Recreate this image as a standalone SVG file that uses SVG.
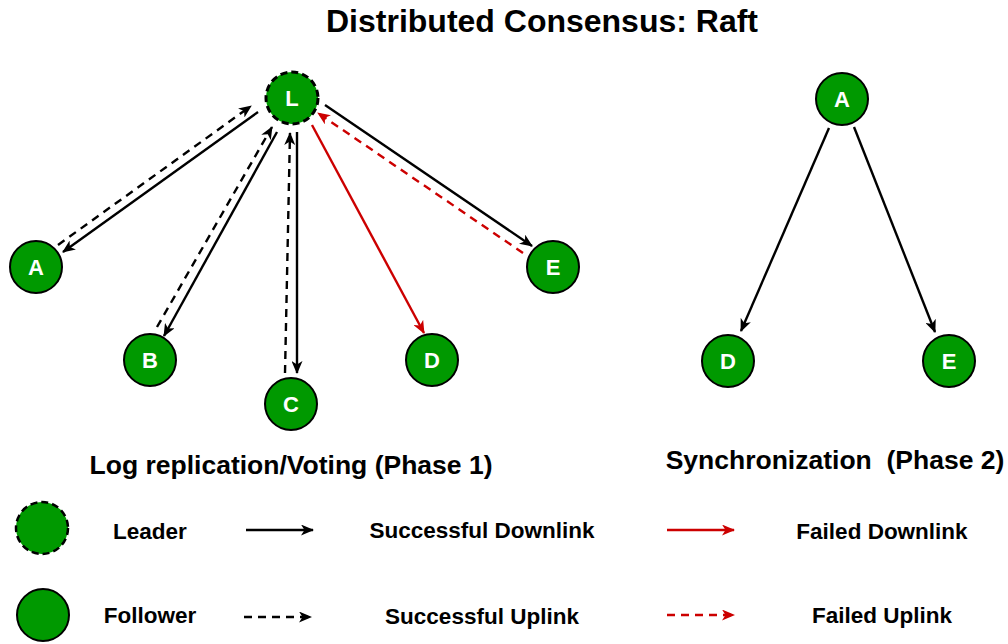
<svg xmlns="http://www.w3.org/2000/svg" width="1008" height="644" viewBox="0 0 1008 644">
  <style>
    .node { fill: #009900; stroke: #000; stroke-width: 2; }
    .leader { fill: #009900; stroke: #000; stroke-width: 3; stroke-dasharray: 7 4; }
    .lbl { font-family: "Liberation Sans", Arial, sans-serif; font-weight: bold; font-size: 22px; fill: #fff; text-anchor: middle; }
    .title { font-family: "Liberation Sans", Arial, sans-serif; font-weight: bold; font-size: 32px; fill: #000; text-anchor: middle; }
    .sub { font-family: "Liberation Sans", Arial, sans-serif; font-weight: bold; font-size: 26.5px; fill: #000; text-anchor: middle; }
    .leg { font-family: "Liberation Sans", Arial, sans-serif; font-weight: bold; font-size: 22.5px; fill: #000; text-anchor: middle; }
    .ok { stroke: #000; stroke-width: 2.4; fill: none; marker-end: url(#ab); }
    .okd { stroke: #000; stroke-width: 2.4; fill: none; stroke-dasharray: 8 6; marker-end: url(#ab); }
    .fail { stroke: #CC0000; stroke-width: 2.4; fill: none; marker-end: url(#ar); }
    .faild { stroke: #CC0000; stroke-width: 2.4; fill: none; stroke-dasharray: 8 6; marker-end: url(#ar); }
  </style>
  <defs>
    <marker id="ab" viewBox="0 0 13 11" refX="12" refY="5.5" markerWidth="13" markerHeight="11" markerUnits="userSpaceOnUse" orient="auto">
      <path d="M0,0 L13,5.5 L0,11 L3.5,5.5 Z" fill="#000"/>
    </marker>
    <marker id="ar" viewBox="0 0 13 11" refX="12" refY="5.5" markerWidth="13" markerHeight="11" markerUnits="userSpaceOnUse" orient="auto">
      <path d="M0,0 L13,5.5 L0,11 L3.5,5.5 Z" fill="#CC0000"/>
    </marker>
  </defs>
  <rect width="1008" height="644" fill="#fff"/>
  <text class="title" x="542" y="32">Distributed Consensus: Raft</text>

  <g id="connectors">
    <line class="ok" x1="258" y1="112" x2="63" y2="252"/>
    <line class="okd" x1="58" y1="245" x2="251" y2="106"/>
    <line class="okd" x1="157" y1="327" x2="272" y2="127"/>
    <line class="ok" x1="277" y1="132" x2="164" y2="336"/>
    <line class="okd" x1="285" y1="373" x2="290" y2="133"/>
    <line class="ok" x1="297" y1="132" x2="297" y2="373"/>
    <line class="fail" x1="312" y1="125" x2="424" y2="333"/>
    <line class="ok" x1="325" y1="105" x2="532" y2="246"/>
    <line class="faild" x1="523" y1="253" x2="318" y2="113"/>
    <line class="ok" x1="829" y1="128" x2="741" y2="331"/>
    <line class="ok" x1="854" y1="127" x2="935" y2="332"/>
  </g>

  <g id="node-L"><circle class="leader" cx="292" cy="98" r="26"/><text class="lbl" x="292" y="106">L</text></g>
  <g id="node-A1"><circle class="node" cx="36" cy="267" r="26"/><text class="lbl" x="36" y="275">A</text></g>
  <g id="node-B1"><circle class="node" cx="150" cy="360" r="26"/><text class="lbl" x="150" y="368">B</text></g>
  <g id="node-C1"><circle class="node" cx="291" cy="404" r="26"/><text class="lbl" x="291" y="412">C</text></g>
  <g id="node-D1"><circle class="node" cx="432" cy="360" r="26"/><text class="lbl" x="432" y="368">D</text></g>
  <g id="node-E1"><circle class="node" cx="553" cy="267" r="26"/><text class="lbl" x="553" y="275">E</text></g>

  <g id="node-A2"><circle class="node" cx="842" cy="99" r="26"/><text class="lbl" x="842" y="107">A</text></g>
  <g id="node-D2"><circle class="node" cx="728" cy="361" r="26"/><text class="lbl" x="728" y="369">D</text></g>
  <g id="node-E2"><circle class="node" cx="949" cy="361" r="26"/><text class="lbl" x="949" y="369">E</text></g>

  <text class="sub" x="291" y="474">Log replication/Voting (Phase 1)</text>
  <text class="sub" x="835" y="469" xml:space="preserve">Synchronization  (Phase 2)</text>

  <g id="legend">
    <circle class="node" cx="42" cy="528" r="26" style="stroke-dasharray:7 4;stroke-width:2.5"/>
    <circle class="node" cx="43" cy="615" r="26"/>
    <text class="leg" x="150" y="539">Leader</text>
    <text class="leg" x="150" y="623">Follower</text>
    <line class="ok" x1="246" y1="530" x2="313" y2="530"/>
    <line class="okd" x1="244" y1="617" x2="311" y2="617"/>
    <text class="leg" x="482" y="538">Successful Downlink</text>
    <text class="leg" x="482" y="624">Successful Uplink</text>
    <line class="fail" x1="667" y1="530" x2="734" y2="530"/>
    <line class="faild" x1="667" y1="615" x2="734" y2="615"/>
    <text class="leg" x="882" y="539">Failed Downlink</text>
    <text class="leg" x="882" y="623">Failed Uplink</text>
  </g>
</svg>
